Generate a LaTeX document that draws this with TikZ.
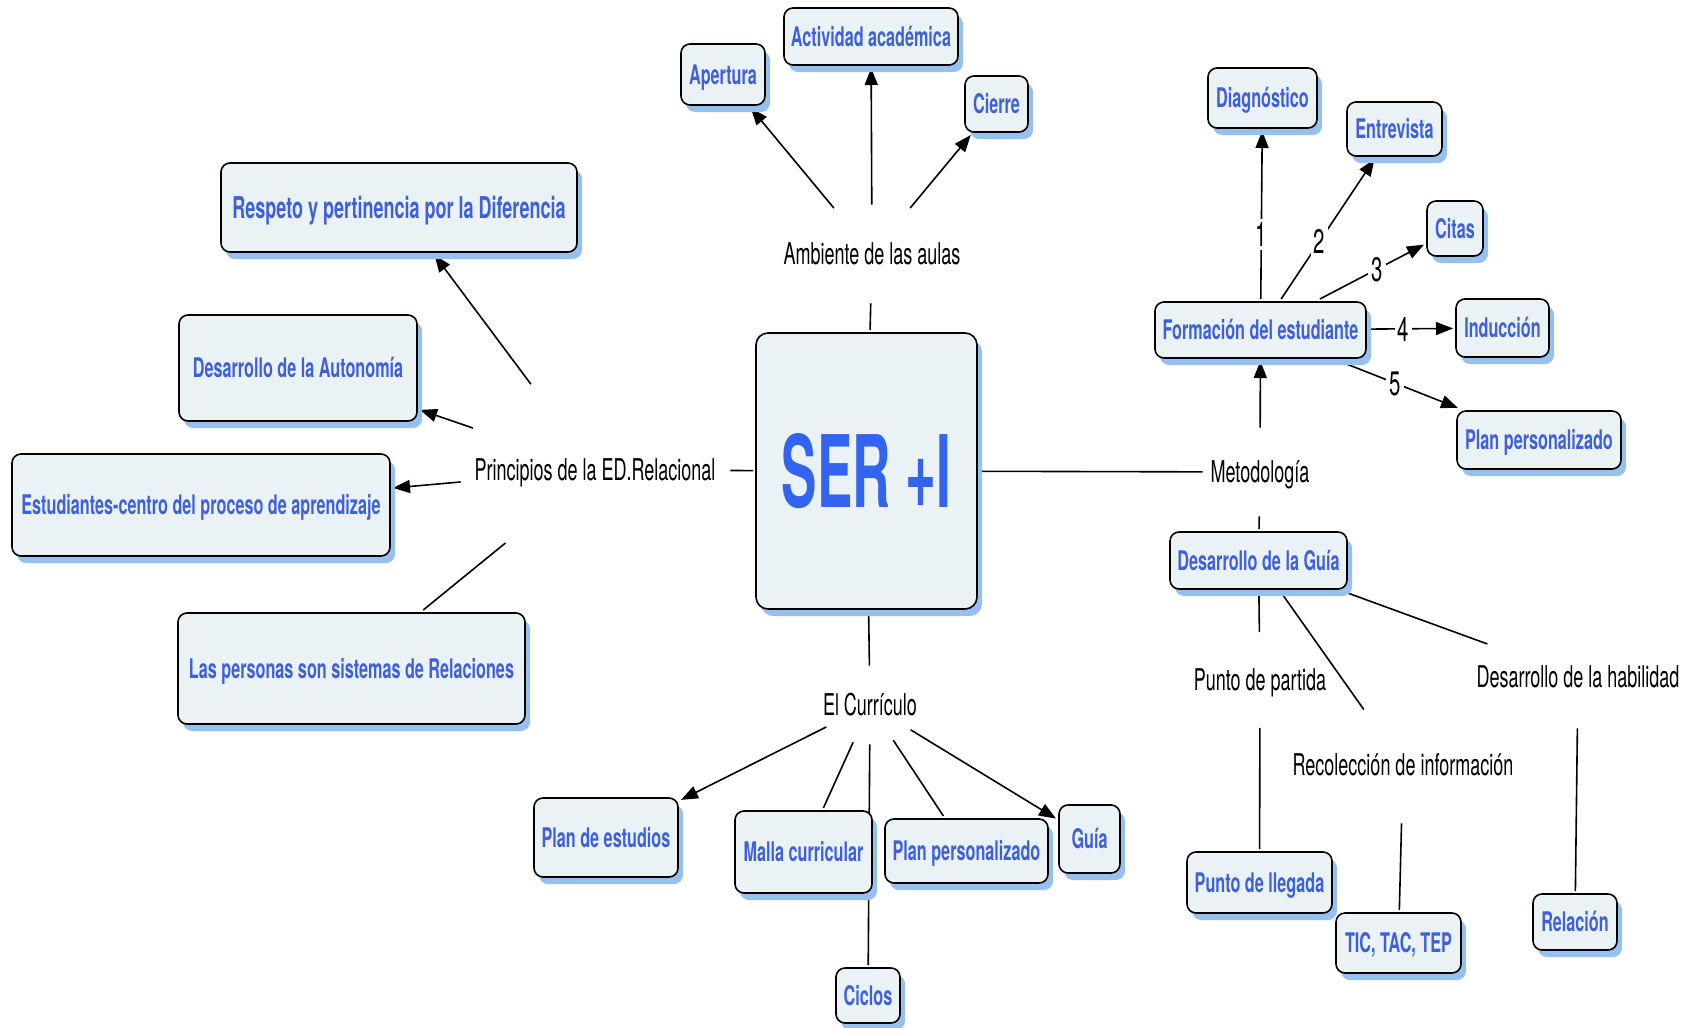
\documentclass[tikz,border=0pt]{standalone}
\usepackage{fontspec}
\newfontfamily\bluef[FakeStretch=0.6]{TeX Gyre Heros}
\newfontfamily\serf[FakeStretch=0.53]{TeX Gyre Heros}
\newfontfamily\blackf[FakeStretch=0.6]{TeX Gyre Heros}
\usetikzlibrary{shapes.geometric,shadows,arrows.meta,backgrounds}
\definecolor{boxfill}{RGB}{235,242,246}
\definecolor{shadowblue}{RGB}{150,192,240}
\definecolor{txtblue}{RGB}{62,96,220}
\definecolor{serblue}{RGB}{50,100,240}
\newcommand{\zw}[1]{\makebox[0pt][c]{#1}}
\begin{document}
\begin{tikzpicture}[x=0.5pt,y=-0.5pt,
  box/.style={draw=black, line width=0.8pt, fill=boxfill, rounded corners=4.5pt, inner sep=0pt, outer sep=1.5pt,
    drop shadow={shadow xshift=2.5pt, shadow yshift=-3.5pt, fill=shadowblue, opacity=1},
    font=\bluef\bfseries\fontsize{13.5pt}{15pt}\selectfont, text=txtblue, text height=9.7pt, text depth=0pt},
  lnk/.style={ellipse, inner sep=0pt, font=\blackf\fontsize{15pt}{18pt}\selectfont, text=black, text height=10.8pt, text depth=0pt},
  ln/.style={line width=0.8pt, draw=black},
  arr/.style={ln, -{Triangle[length=8.5pt,width=6.5pt]}},
  num/.style={fill=white, inner sep=1.5pt, font=\blackf\fontsize{17pt}{20pt}\selectfont, text height=12.2pt, text depth=0pt},
]
\useasboundingbox (0,0) rectangle (1692,1028);

% boxes
\node[box, minimum width=42pt, minimum height=30.5pt] (ap) at (723,74.5) {Apertura};
\node[box, minimum width=87pt, minimum height=28.5pt] (act) at (871,36.5) {Actividad académica};
\node[box, minimum width=31.5pt, minimum height=28pt] (cie) at (996.5,104) {Cierre};
\node[box, minimum width=178pt, minimum height=44.5pt, font=\bluef\bfseries\fontsize{15pt}{18pt}\selectfont, text height=10.8pt] (resp) at (399,207.5) {Respeto y pertinencia por la Diferencia};
\node[box, minimum width=119pt, minimum height=53pt] (auto) at (298,368) {Desarrollo de la Autonomía};
\node[box, minimum width=189pt, minimum height=51pt] (est) at (201,505) {Estudiantes-centro del proceso de aprendizaje};
\node[box, minimum width=173.5pt, minimum height=55.5pt] (pers) at (351.5,668.5) {Las personas son sistemas de Relaciones};
\node[box, minimum width=110.5pt, minimum height=138pt, rounded corners=6pt, font=\serf\bfseries\fontsize{50pt}{55pt}\selectfont, text=serblue, text height=36pt] (ser) at (866.5,471) {SER +I};
\node[box, minimum width=105.5pt, minimum height=28pt] (form) at (1260.5,330) {Formación del estudiante};
\node[box, minimum width=54.5pt, minimum height=30pt] (diag) at (1262.5,98) {Diagnóstico};
\node[box, minimum width=47.5pt, minimum height=27pt] (entr) at (1394.5,129) {Entrevista};
\node[box, minimum width=28pt, minimum height=27.5pt] (cit) at (1455,228.5) {Citas};
\node[box, minimum width=46.5pt, minimum height=29pt] (ind) at (1502.5,328) {Inducción};
\node[box, minimum width=82pt, minimum height=29pt] (planr) at (1539,440) {Plan personalizado};
\node[box, minimum width=88.5pt, minimum height=28.5pt] (guia) at (1258.5,560.5) {Desarrollo de la Guía};
\node[box, minimum width=72.5pt, minimum height=30.5pt] (lleg) at (1259.5,882.5) {Punto de llegada};
\node[box, minimum width=62.5pt, minimum height=30pt] (tic) at (1398.5,943) {TIC, TAC, TEP};
\node[box, minimum width=42pt, minimum height=28pt] (rel) at (1575,922) {Relación};
\node[box, minimum width=72pt, minimum height=39.5pt] (pest) at (606,837.5) {Plan de estudios};
\node[box, minimum width=68.5pt, minimum height=41pt] (malla) at (803.5,852) {Malla curricular};
\node[box, minimum width=32pt, minimum height=27.5pt] (cic) at (868,995.5) {Ciclos};
\node[box, minimum width=81.5pt, minimum height=32pt] (planb) at (966.5,851) {Plan personalizado};
\node[box, minimum width=30.5pt, minimum height=34pt] (guib) at (1089.5,839) {Guía};

% linking phrases
\node[lnk, minimum width=104pt, minimum height=49pt] (amb) at (872,254) {\zw{Ambiente de las aulas}};
\node[lnk, minimum width=135pt, minimum height=97pt] (prin) at (595,470) {\zw{Principios de la ED.Relacional}};
\node[lnk, minimum width=57pt, minimum height=44pt] (met) at (1260,472) {\zw{Metodología}};
\node[lnk, minimum width=52pt, minimum height=39pt] (curr) at (870,705) {\zw{El Currículo}};
\node[lnk, minimum width=80pt, minimum height=47.5pt] (part) at (1260,680) {\zw{Punto de partida}};
\node[lnk, minimum width=125pt, minimum height=58pt] (rec) at (1403,765) {\zw{Recolección de información}};
\node[lnk, minimum width=118pt, minimum height=51pt] (hab) at (1578,677) {\zw{Desarrollo de la habilidad}};

\begin{pgfonlayer}{background}
\fill[white] (0,0) rectangle (1692,1028);
\draw[arr] (amb) -- (ap);
\draw[arr] (amb) -- (act);
\draw[arr] (amb) -- (cie);
\draw[ln] (amb) -- (ser);
\draw[arr] (prin) -- (resp);
\draw[arr] (prin) -- (auto);
\draw[arr] (prin) -- (est);
\draw[ln] (prin) -- (pers);
\draw[ln] (prin) -- (ser);
\draw[ln] (ser) -- (met);
\draw[arr] (met) -- (form);
\draw[ln] (met) -- (guia);
\draw[arr] (form) -- node[num, pos=0.385] (n1) {1} (diag);
\draw[arr] (form) -- node[num, pos=0.41] (n2) {2} (entr);
\draw[arr] (form) -- node[num, pos=0.55] (n3) {3} (cit);
\draw[arr] (form) -- node[num, pos=0.41] (n4) {4} (ind);
\draw[arr] (form) -- node[num, pos=0.47] (n5) {5} (planr);
\draw[ln] (guia) -- (part);
\draw[ln] (guia) -- (rec);
\draw[ln] (guia) -- (hab);
\draw[ln] (part) -- (lleg);
\draw[ln] (rec) -- (tic);
\draw[ln] (hab) -- (rel);
\draw[ln] (ser) -- (curr);
\draw[arr] (curr) -- (pest);
\draw[ln] (curr) -- (malla);
\draw[ln] (curr) -- (cic);
\draw[ln] (curr) -- (planb);
\draw[arr] (curr) -- (guib);
\end{pgfonlayer}
\end{tikzpicture}
\end{document}
